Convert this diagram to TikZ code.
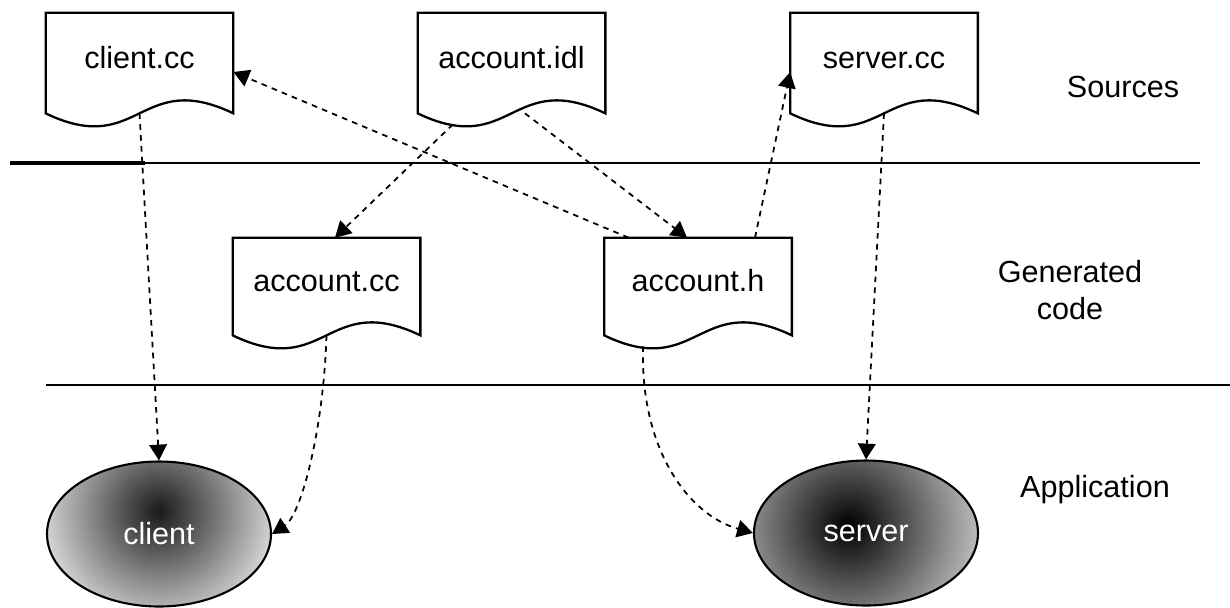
\documentclass[tikz,border=0pt]{standalone}
\usepackage{fontspec}
\setmainfont{Liberation Sans}
\usetikzlibrary{arrows.meta,shapes.geometric,calc}

\tikzset{
  txt/.style={font=\fontsize{17.4}{21}\selectfont, inner sep=0pt},
  docnode/.style={txt, rectangle, minimum width=3.74cm, minimum height=2cm,
                  text height=0.5cm, text depth=0.3cm},
  docline/.style={draw=black, line width=1.3pt, fill=white, line join=miter},
  conn/.style={draw=black, line width=1pt, dash pattern=on 3.2pt off 3pt,
               -{Triangle[length=9pt,width=10pt]}},
  divider/.style={draw=black, line width=1pt},
  app/.style={txt, ellipse, draw=black, line width=1.2pt,
              minimum width=4.48cm, minimum height=2.9cm, text=white},
}

% outline of a source file: flat top, wavy bottom edge
\newcommand\docshape[1]{%
  \path[docline] (#1.south west) -- (#1.north west) -- (#1.north east) -- (#1.south east)
    .. controls ($(#1.south)+(0,0.9)$) and ($(#1.south)+(0,-0.9)$) .. (#1.south west) -- cycle;}

\begin{document}
\begin{tikzpicture}
\useasboundingbox (0,0) rectangle (24.6,-12.14);

% layer dividers
\coordinate (d1a) at (0.2,-3.26);
\coordinate (d1m) at (2.9,-3.26);
\coordinate (d1b) at (24.0,-3.26);
\coordinate (d2a) at (0.92,-7.7);
\coordinate (d2b) at (24.6,-7.7);
\draw[divider] (d1a) -- (d1b);
\draw[divider, line width=1.8pt] (d1a) -- (d1m);
\draw[divider] (d2a) -- (d2b);

% file outlines
\path (2.79,-1.26) coordinate (pcc) (10.23,-1.26) coordinate (pidl) (17.68,-1.26) coordinate (psv)
      (6.53,-5.73) coordinate (pacc) (13.96,-5.73) coordinate (pah);
\node[docnode] (cc) at (pcc) {};
\node[docnode] (idl) at (pidl) {};
\node[docnode] (sv) at (psv) {};
\node[docnode, minimum height=1.94cm] (acc) at (pacc) {};
\node[docnode, minimum height=1.94cm] (ah) at (pah) {};
\docshape{cc}\docshape{idl}\docshape{sv}\docshape{acc}\docshape{ah}
\node[docnode] at (cc) {client.cc};
\node[docnode] at (idl) {account.idl};
\node[docnode] at (sv) {server.cc};
\node[docnode, minimum height=1.94cm] at (acc) {account.cc};
\node[docnode, minimum height=1.94cm] at (ah) {account.h};

% executables
\node[app, path picture={\shade[inner color=black!90, outer color=gray!15]
      ($(path picture bounding box.center)+(0,0.45)$) circle (2.6cm);}]
  (cl) at (3.18,-10.68) {client};
\node[app, path picture={\shade[inner color=black, outer color=gray!30]
      ($(path picture bounding box.center)+(-0.35,0.15)$) circle (3.0cm);}]
  (se) at (17.32,-10.66) {server};

% layer captions
\node[txt] (src) at (22.46,-1.74) {Sources};
\node[txt, align=center] (gen) at (21.4,-5.8) {Generated\\code};
\node[txt] (apl) at (21.9,-9.8) {Application};

% dependencies
\draw[conn] (cc.south) -- (cl.north);
\draw[conn] ($(ah.north west)!0.13!(ah.north east)$) -- ([yshift=-0.18cm]cc.east);
\draw[conn] ([xshift=-1.17cm,yshift=-0.22cm]idl.south) -- ([xshift=0.17cm]acc.north);
\draw[conn] ([xshift=0.27cm]idl.south) -- ([xshift=-0.22cm]ah.north);
\draw[conn] ([xshift=1.14cm]ah.north) -- ([yshift=-0.18cm]sv.west);
\draw[conn] (sv.south) -- (se.north);
\draw[conn] (acc.south) .. controls +(-0.06,-1.9) and +(0.58,0.38) .. (cl.east);
\draw[conn] ([xshift=-1.1cm,yshift=-0.22cm]ah.south) .. controls +(-0.06,-2.08) and +(-1.28,0.36) .. (se.west);
\end{tikzpicture}
\end{document}
